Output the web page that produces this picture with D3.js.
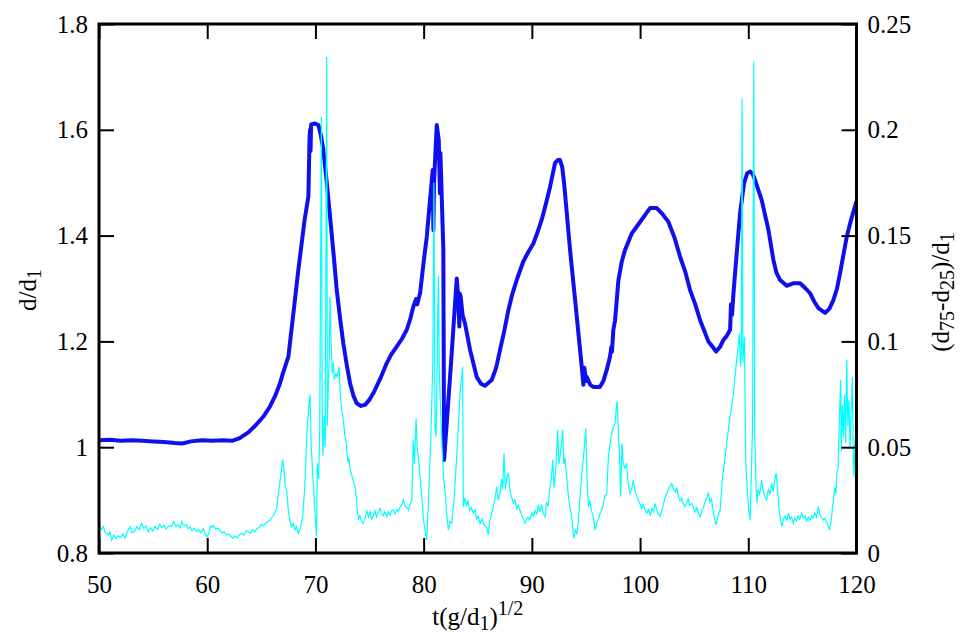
<!DOCTYPE html>
<html>
<head>
<meta charset="utf-8">
<script src="https://cdn.jsdelivr.net/npm/d3@7"></script>
<style>
  html, body { margin: 0; padding: 0; background: #fff; }
  svg text { font-family: "Liberation Serif", "Times New Roman", serif; fill: #000; }
</style>
</head>
<body>
<svg id="chart" width="965" height="635"></svg>
<script>
// ticks
const xTicks = [50, 60, 70, 80, 90, 100, 110, 120]
const leftTicks = [0.8, 1.0, 1.2, 1.4, 1.6, 1.8]
const rightTicks = [0, 0.05, 0.1, 0.15, 0.2, 0.25]

// d/d1 (thick blue, left axis) : [t, value]
const meanSize = [
  [50,1.013],[51,1.014],[52,1.012],[53,1.013],[54,1.012],[55,1.011],[56,1.010],[57,1.008],[57.7,1.007],
  [58.5,1.011],[59.5,1.013],[60.5,1.012],[61.5,1.013],[62.3,1.012],[63,1.017],[63.8,1.028],[64.5,1.042],
  [65.2,1.058],[65.8,1.077],[66.3,1.098],[66.73,1.121],[67.0,1.140],[67.19,1.152],[67.5,1.171],[68.0,1.26],
  [68.42,1.335],[69.0,1.43],[69.35,1.474],[69.45,1.58],[69.5,1.6],[69.55,1.56],[69.6,1.61],[69.96,1.612],
  [70.27,1.609],[70.5,1.59],[70.73,1.562],[71.0,1.51],[71.35,1.436],[71.7,1.36],[71.97,1.297],[72.3,1.24],
  [72.58,1.196],[72.9,1.155],[73.2,1.121],[73.5,1.098],[73.81,1.083],[74.2,1.078],[74.58,1.080],[75.0,1.09],
  [75.35,1.102],[76.0,1.13],[76.59,1.159],[77.0,1.175],[77.51,1.19],[78.0,1.205],[78.44,1.222],[78.8,1.245],
  [79.05,1.266],[79.3,1.28],[79.4,1.27],[79.67,1.291],[80.0,1.35],[80.29,1.398],[80.6,1.47],[80.84,1.524],
  [80.9,1.41],[80.96,1.50],[81.21,1.609],[81.4,1.58],[81.5,1.48],[81.55,1.556],[81.82,1.373],[81.89,0.976],
  [82.5,1.15],[83.06,1.319],[83.2,1.28],[83.3,1.228],[83.35,1.29],[83.42,1.285],[83.6,1.25],[83.82,1.234],
  [84.29,1.184],[84.9,1.133],[85.3,1.12],[85.67,1.116],[86.29,1.127],[86.7,1.15],[87.06,1.184],[87.45,1.22],
  [87.83,1.259],[88.2,1.29],[88.6,1.316],[89.21,1.351],[89.7,1.37],[90.14,1.385],[90.5,1.405],[90.91,1.43],
  [91.3,1.46],[91.68,1.492],[92.14,1.537],[92.4,1.543],[92.6,1.543],[92.8,1.53],[92.98,1.499],[93.53,1.373],
  [94.15,1.247],[94.61,1.152],[94.76,1.118],[94.85,1.15],[95.0,1.125],[95.07,1.133],[95.4,1.118],[95.68,1.114],
  [96.3,1.114],[96.6,1.125],[96.92,1.146],[97.22,1.171],[97.35,1.19],[97.4,1.18],[97.53,1.222],[97.69,1.24],
  [98.0,1.316],[98.3,1.35],[98.61,1.373],[99.23,1.404],[100.15,1.43],[100.5,1.44],[100.92,1.452],[101.54,1.452],
  [102.1,1.44],[102.62,1.426],[103.2,1.395],[103.7,1.36],[104.2,1.33],[104.62,1.297],[105.1,1.27],[105.55,1.24],
  [106.31,1.2],[106.7,1.19],[107.03,1.181],[107.4,1.19],[107.7,1.203],[108.0,1.21],[108.32,1.222],[108.4,1.27],
  [108.5,1.25],[108.63,1.291],[108.93,1.367],[109.24,1.442],[109.61,1.499],[109.9,1.518],[110.17,1.521],
  [110.4,1.517],[110.63,1.505],[111.24,1.467],[111.86,1.411],[112.32,1.354],[112.6,1.33],[112.94,1.316],
  [113.55,1.305],[114.2,1.31],[114.79,1.31],[115.3,1.30],[115.71,1.291],[116.1,1.275],[116.48,1.263],
  [117.1,1.254],[117.5,1.262],[117.86,1.278],[118.2,1.30],[118.48,1.329],[119.1,1.398],[119.5,1.43],[120,1.465]
]

// (d75-d25)/d1 (thin cyan, right axis) : [t, value]
const spread = [
  [50.0,0.0140],[50.2,0.0110],[50.4,0.0124],[50.6,0.0095],[50.86,0.0085],[51.0,0.0100],[51.17,0.0061],
  [51.35,0.0085],[51.55,0.0070],[51.78,0.0080],[52.0,0.0072],[52.2,0.0090],[52.4,0.0069],[52.6,0.0100],
  [52.87,0.0124],[53.05,0.0095],[53.33,0.0105],[53.5,0.0125],[53.7,0.0110],[53.95,0.0140],[54.15,0.0115],
  [54.35,0.0128],[54.55,0.0100],[54.75,0.0120],[54.95,0.0105],[55.18,0.0125],[55.4,0.0112],[55.6,0.0135],
  [55.8,0.0120],[56.0,0.0130],[56.2,0.0112],[56.45,0.0128],[56.71,0.0125],[56.9,0.0148],[57.1,0.0125],
  [57.3,0.0135],[57.5,0.0118],[57.64,0.0150],[57.85,0.0128],[58.05,0.0135],[58.25,0.0115],[58.41,0.0124],
  [58.6,0.0105],[58.8,0.0118],[59.0,0.0100],[59.18,0.0110],[59.4,0.0095],[59.64,0.0115],[59.85,0.0085],
  [60.0,0.0077],[60.15,0.0095],[60.3,0.0128],[60.45,0.0120],[60.57,0.0130],[60.8,0.0112],[61.0,0.0118],
  [61.18,0.0105],[61.4,0.0095],[61.6,0.0100],[61.8,0.0085],[62.0,0.0090],[62.2,0.0078],[62.4,0.0069],
  [62.57,0.0080],[62.8,0.0072],[63.0,0.0090],[63.19,0.0093],[63.4,0.0085],[63.6,0.0105],[63.8,0.0100],
  [64.0,0.0093],[64.2,0.0110],[64.4,0.0100],[64.57,0.0115],[64.8,0.0120],[65.0,0.0135],[65.2,0.0128],
  [65.5,0.0145],[65.8,0.0156],[66.0,0.0170],[66.2,0.0185],[66.42,0.0215],[66.6,0.0290],[66.8,0.0370],
  [66.97,0.0440],[67.1,0.0395],[67.2,0.0310],[67.34,0.0298],[67.5,0.0200],[67.65,0.0150],[67.8,0.0124],
  [67.95,0.0140],[68.1,0.0110],[68.25,0.0125],[68.42,0.0093],[68.6,0.0115],[68.82,0.0172],[69.0,0.0300],
  [69.2,0.0550],[69.4,0.0700],[69.5,0.0747],[69.6,0.0520],[69.74,0.0377],[69.9,0.0250],[70.0,0.0150],
  [70.11,0.0077],[70.17,0.0424],[70.3,0.0350],[70.4,0.0600],[70.55,0.2060],[70.62,0.0700],[70.7,0.0460],
  [70.8,0.0650],[70.9,0.0500],[71.04,0.2344],[71.1,0.0600],[71.2,0.0800],[71.28,0.0950],[71.35,0.1210],
  [71.45,0.1000],[71.55,0.0850],[71.65,0.0900],[71.75,0.0818],[71.9,0.0850],[72.0,0.0830],[72.2,0.0880],
  [72.3,0.0750],[72.43,0.0676],[72.55,0.0640],[72.73,0.0550],[72.85,0.0520],[73.0,0.0430],[73.1,0.0450],
  [73.2,0.0392],[73.35,0.0370],[73.5,0.0340],[73.66,0.0313],[73.8,0.0250],[73.96,0.0156],[74.1,0.0175],
  [74.25,0.0150],[74.43,0.0140],[74.6,0.0165],[74.74,0.0203],[74.9,0.0170],[75.05,0.0195],[75.2,0.0160],
  [75.35,0.0180],[75.5,0.0200],[75.65,0.0170],[75.8,0.0190],[75.97,0.0211],[76.1,0.0185],[76.25,0.0175],
  [76.4,0.0195],[76.59,0.0172],[76.75,0.0195],[76.9,0.0180],[77.05,0.0200],[77.2,0.0203],[77.35,0.0185],
  [77.5,0.0205],[77.65,0.0195],[77.8,0.0215],[78.0,0.0230],[78.13,0.0250],[78.3,0.0220],[78.45,0.0215],
  [78.59,0.0203],[78.75,0.0230],[78.9,0.0250],[79.05,0.0534],[79.15,0.0420],[79.3,0.0636],[79.4,0.0500],
  [79.51,0.0455],[79.67,0.0360],[79.85,0.0250],[80.0,0.0150],[80.15,0.0100],[80.29,0.0061],[80.45,0.0250],
  [80.6,0.0450],[80.75,0.0700],[80.85,0.0900],[80.95,0.1750],[81.05,0.0600],[81.15,0.0550],[81.25,0.0900],
  [81.36,0.1310],[81.45,0.0850],[81.55,0.0700],[81.7,0.0500],[81.85,0.0350],[81.98,0.0298],[82.1,0.0200],
  [82.28,0.0109],[82.45,0.0150],[82.6,0.0140],[82.8,0.0250],[83.06,0.0455],[83.25,0.0650],[83.4,0.0780],
  [83.52,0.0833],[83.6,0.0880],[83.67,0.0219],[83.8,0.0260],[83.95,0.0220],[84.1,0.0250],[84.25,0.0200],
  [84.4,0.0215],[84.59,0.0188],[84.75,0.0205],[84.9,0.0160],[85.05,0.0175],[85.21,0.0140],[85.4,0.0160],
  [85.6,0.0130],[85.83,0.0124],[85.98,0.0085],[86.1,0.0150],[86.29,0.0188],[86.45,0.0220],[86.6,0.0260],
  [86.75,0.0313],[86.9,0.0250],[87.05,0.0280],[87.2,0.0350],[87.3,0.0300],[87.43,0.0471],[87.55,0.0300],
  [87.7,0.0360],[87.83,0.0377],[88.0,0.0290],[88.15,0.0260],[88.29,0.0235],[88.45,0.0250],[88.6,0.0210],
  [88.75,0.0225],[88.91,0.0203],[89.05,0.0180],[89.2,0.0160],[89.37,0.0140],[89.5,0.0160],[89.65,0.0170],
  [89.8,0.0155],[89.99,0.0188],[90.15,0.0175],[90.3,0.0200],[90.45,0.0185],[90.6,0.0227],[90.75,0.0195],
  [90.9,0.0230],[91.05,0.0185],[91.22,0.0172],[91.35,0.0240],[91.5,0.0220],[91.65,0.0300],[91.8,0.0350],
  [91.93,0.0440],[92.05,0.0310],[92.2,0.0380],[92.39,0.0581],[92.5,0.0420],[92.6,0.0455],[92.7,0.0500],
  [92.85,0.0581],[92.95,0.0420],[93.05,0.0450],[93.22,0.0360],[93.35,0.0280],[93.5,0.0220],[93.69,0.0172],
  [93.8,0.0100],[93.9,0.0069],[94.0,0.0110],[94.15,0.0090],[94.3,0.0156],[94.5,0.0300],[94.7,0.0420],
  [94.85,0.0500],[94.98,0.0589],[95.1,0.0350],[95.22,0.0219],[95.35,0.0250],[95.5,0.0200],[95.65,0.0180],
  [95.84,0.0109],[96.0,0.0140],[96.15,0.0160],[96.3,0.0188],[96.45,0.0200],[96.6,0.0230],[96.77,0.0274],
  [96.92,0.0282],[97.07,0.0455],[97.2,0.0500],[97.35,0.0560],[97.5,0.0590],[97.69,0.0613],[97.84,0.0707],
  [97.9,0.0715],[98.0,0.0550],[98.1,0.0470],[98.2,0.0266],[98.33,0.0518],[98.45,0.0420],[98.6,0.0400],
  [98.76,0.0424],[98.9,0.0330],[99.07,0.0282],[99.2,0.0300],[99.38,0.0345],[99.55,0.0290],[99.7,0.0270],
  [99.84,0.0250],[100.0,0.0230],[100.15,0.0210],[100.3,0.0230],[100.45,0.0200],[100.62,0.0188],[100.8,0.0205],
  [100.95,0.0180],[101.1,0.0210],[101.25,0.0195],[101.39,0.0235],[101.55,0.0200],[101.7,0.0185],[101.85,0.0172],
  [102.0,0.0200],[102.15,0.0230],[102.3,0.0260],[102.47,0.0282],[102.6,0.0300],[102.75,0.0315],[102.93,0.0329],
  [103.1,0.0300],[103.25,0.0290],[103.4,0.0305],[103.54,0.0266],[103.7,0.0245],[103.85,0.0260],[104.0,0.0230],
  [104.16,0.0219],[104.3,0.0240],[104.45,0.0255],[104.6,0.0225],[104.78,0.0235],[104.95,0.0210],[105.1,0.0195],
  [105.25,0.0215],[105.4,0.0185],[105.55,0.0172],[105.7,0.0200],[105.85,0.0215],[106.0,0.0240],[106.15,0.0260],
  [106.31,0.0282],[106.45,0.0240],[106.6,0.0255],[106.75,0.0200],[106.9,0.0160],[107.03,0.0132],[107.2,0.0175],
  [107.4,0.0203],[107.6,0.0350],[107.86,0.0455],[108.2,0.0600],[108.63,0.0755],[108.9,0.0900],[109.18,0.1038],
  [109.28,0.0880],[109.36,0.0950],[109.43,0.2149],[109.5,0.0900],[109.64,0.1022],[109.77,0.0424],[109.9,0.0300],
  [110.05,0.0200],[110.17,0.0156],[110.3,0.0400],[110.4,0.0613],[110.5,0.2322],[110.6,0.0570],[110.7,0.0350],
  [110.79,0.0235],[110.9,0.0300],[111.05,0.0280],[111.24,0.0345],[111.35,0.0300],[111.5,0.0270],[111.7,0.0250],
  [111.85,0.0300],[112.0,0.0280],[112.17,0.0329],[112.3,0.0290],[112.45,0.0350],[112.57,0.0377],[112.7,0.0300],
  [112.85,0.0200],[113.0,0.0150],[113.09,0.0124],[113.25,0.0160],[113.4,0.0175],[113.55,0.0155],[113.71,0.0188],
  [113.85,0.0160],[114.0,0.0170],[114.17,0.0140],[114.3,0.0165],[114.45,0.0150],[114.6,0.0175],[114.75,0.0160],
  [114.94,0.0188],[115.1,0.0165],[115.25,0.0175],[115.4,0.0150],[115.55,0.0170],[115.71,0.0156],[115.85,0.0175],
  [116.0,0.0165],[116.15,0.0190],[116.3,0.0170],[116.48,0.0219],[116.6,0.0185],[116.75,0.0170],[116.94,0.0156],
  [117.1,0.0165],[117.3,0.0140],[117.5,0.0109],[117.65,0.0150],[117.75,0.0200],[117.86,0.0250],[118.0,0.0310],
  [118.1,0.0280],[118.18,0.0377],[118.3,0.0400],[118.4,0.0600],[118.54,0.0818],[118.6,0.0480],[118.7,0.0700],
  [118.8,0.0550],[118.9,0.0750],[119.0,0.0520],[119.1,0.0912],[119.2,0.0600],[119.3,0.0720],[119.4,0.0500],
  [119.5,0.0650],[119.62,0.0833],[119.7,0.0450],[119.77,0.0360],[119.87,0.0550],[120.0,0.0480]
]

const L = 99, R = 856.5, T = 24, B = 553
const fs = 25
const serif = '"Liberation Serif", "Times New Roman", serif'

const svg = d3.select('#chart')
const x = d3.scaleLinear().domain([50, 120]).range([L, R])
const yL = d3.scaleLinear().domain([0.8, 1.8]).range([B, T])
const yR = d3.scaleLinear().domain([0, 0.25]).range([B, T])
const fmt = d => String(+d.toFixed(2))

svg.append('defs').append('clipPath').attr('id', 'plot')
  .append('rect').attr('x', L).attr('y', T).attr('width', R - L).attr('height', B - T)

const plot = svg.append('g').attr('clip-path', 'url(#plot)')

plot.append('path')
  .datum(meanSize)
  .attr('fill', 'none')
  .attr('stroke', '#1010ee')
  .attr('stroke-width', 4)
  .attr('stroke-linejoin', 'round')
  .attr('d', d3.line().x(d => x(d[0])).y(d => yL(d[1])))

plot.append('path')
  .datum(spread)
  .attr('fill', 'none')
  .attr('stroke', '#00ffff')
  .attr('stroke-width', 1.2)
  .attr('d', d3.line().x(d => x(d[0])).y(d => yR(d[1])))

// axes, ticks pointing inwards
function styleAxis(g) {
  g.attr('font-family', serif)
  g.select('.domain').remove()
  g.selectAll('.tick line').attr('stroke', '#000').attr('stroke-width', 2)
  g.selectAll('.tick text').attr('font-size', fs).attr('fill', '#000')
    .attr('font-family', serif)
}

svg.append('g').attr('transform', `translate(0,${B})`)
  .call(d3.axisBottom(x).tickValues(xTicks).tickSize(-15).tickPadding(22).tickFormat(fmt))
  .call(styleAxis)
svg.append('g').attr('transform', `translate(0,${T})`)
  .call(d3.axisTop(x).tickValues(xTicks).tickSize(-15).tickFormat(''))
  .call(styleAxis)
svg.append('g').attr('transform', `translate(${L},0)`)
  .call(d3.axisLeft(yL).tickValues(leftTicks).tickSize(-15).tickPadding(11).tickFormat(fmt))
  .call(styleAxis)
svg.append('g').attr('transform', `translate(${R},0)`)
  .call(d3.axisRight(yR).tickValues(rightTicks).tickSize(-15).tickPadding(11).tickFormat(fmt))
  .call(styleAxis)

svg.append('rect')
  .attr('x', L).attr('y', T).attr('width', R - L).attr('height', B - T)
  .attr('fill', 'none').attr('stroke', '#000').attr('stroke-width', 3)

// titles with sub/superscripts
function label(g, parts) {
  const t = g.append('text').attr('text-anchor', 'middle')
    .attr('font-size', fs).attr('font-family', serif)
  let shift = 0
  parts.forEach(([s, kind]) => {
    const target = kind === 'sub' ? 5 : kind === 'sup' ? -10 : 0
    t.append('tspan')
      .attr('dy', target - shift)
      .attr('font-size', kind ? fs * 0.8 : fs)
      .text(s)
    shift = target
  })
  return t
}

label(svg.append('g').attr('transform', `translate(${(L + R) / 2},625)`),
  [['t(g/d'], ['1', 'sub'], [')'], ['1/2', 'sup']])
label(svg.append('g').attr('transform', 'translate(36,290) rotate(-90)'),
  [['d/d'], ['1', 'sub']])
label(svg.append('g').attr('transform', 'translate(949,292) rotate(-90)'),
  [['(d'], ['75', 'sub'], ['-d'], ['25', 'sub'], [')/d'], ['1', 'sub']])
</script>
</body>
</html>
